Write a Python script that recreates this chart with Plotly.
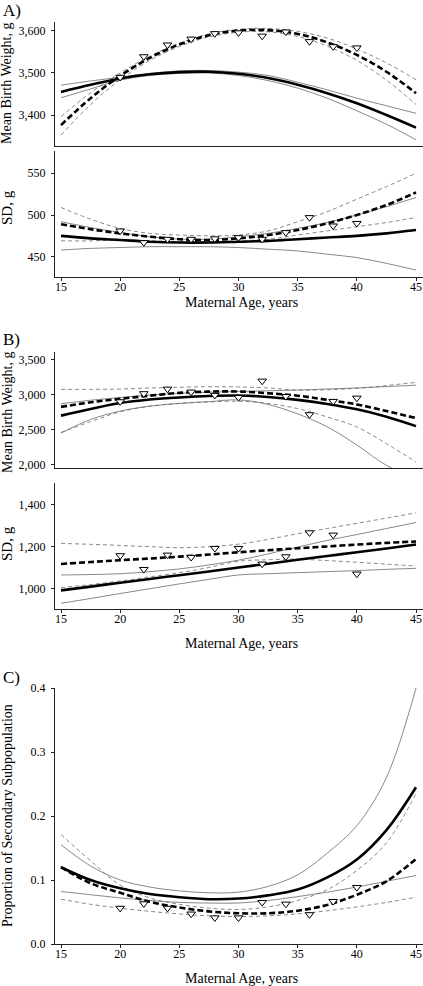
import plotly.graph_objects as go

# ---------------- data ----------------
ages = [15, 17.5, 20, 22.5, 25, 27.5, 30, 32.5, 35, 37.5, 40, 42.5, 45]
obs_ages = [20, 22, 24, 26, 28, 30, 32, 34, 36, 38, 40]

# Panel A - mean birth weight
a_mean_solid = [3455, 3472, 3487, 3497, 3502, 3503, 3498, 3488, 3472, 3452, 3428, 3400, 3370]
a_mean_solid_hi = [3471, 3481, 3490, 3499, 3505, 3506, 3502, 3494, 3478, 3460, 3440, 3422, 3404]
a_mean_solid_lo = [3441, 3462, 3483, 3494, 3499, 3500, 3494, 3482, 3464, 3440, 3410, 3378, 3341]
a_mean_dash = [3376, 3440, 3493, 3536, 3568, 3590, 3601, 3602, 3593, 3573, 3543, 3503, 3452]
a_mean_dash_hi = [3396, 3453, 3500, 3540, 3571, 3593, 3604, 3606, 3599, 3583, 3557, 3524, 3484]
a_mean_dash_lo = [3352, 3425, 3484, 3530, 3563, 3586, 3597, 3598, 3587, 3564, 3530, 3483, 3425]
a_mean_obs = [3490, 3539, 3567, 3581, 3594, 3596, 3588, 3598, 3575, 3563, 3560]

# Panel A - SD
a_sd_solid = [475, 472, 470, 468, 467, 467, 468, 469, 471, 473, 475, 478, 482]
a_sd_solid_hi = [492, 485, 479, 474, 471, 471, 474, 478, 484, 491, 500, 510, 521]
a_sd_solid_lo = [458, 460, 461, 462, 462, 462, 461, 459, 457, 453, 449, 442, 434]
a_sd_dash = [489, 483, 478, 474, 471, 470, 472, 476, 482, 490, 500, 512, 527]
a_sd_dash_hi = [509, 495, 484, 478, 476, 475, 476, 481, 492, 504, 519, 534, 550]
a_sd_dash_lo = [469, 469, 470, 469, 468, 468, 469, 471, 476, 481, 486, 491, 497]
a_sd_obs = [481, 467, 471, 471, 471.6, 473, 471, 479, 497, 487, 490]

# Panel B - mean birth weight
b_mean_solid = [2705, 2800, 2885, 2935, 2965, 2985, 2992, 2972, 2930, 2870, 2795, 2690, 2555]
b_mean_solid_hi = [2875, 2925, 2965, 3000, 3025, 3040, 3050, 3060, 3070, 3085, 3100, 3120, 3140]
b_mean_solid_lo = [2455, 2650, 2770, 2840, 2880, 2905, 2930, 2865, 2730, 2545, 2285, 1995, 1800]
b_mean_dash = [2830, 2895, 2945, 2990, 3030, 3048, 3050, 3025, 2990, 2930, 2865, 2770, 2670]
b_mean_dash_hi = [3080, 3080, 3085, 3100, 3110, 3118, 3115, 3100, 3070, 3075, 3095, 3135, 3180]
b_mean_dash_lo = [2465, 2620, 2760, 2840, 2880, 2900, 2910, 2880, 2805, 2686, 2543, 2305, 2043]
b_mean_obs = [2905, 3020, 3085, 3043, 2996, 2965, 3200, 2980, 2720, 2910, 2957]

# Panel B - SD
b_sd_solid = [990, 1008, 1027, 1045, 1063, 1081, 1100, 1118, 1137, 1155, 1173, 1191, 1210]
b_sd_solid_hi = [1064, 1066, 1070, 1080, 1093, 1112, 1135, 1165, 1198, 1230, 1258, 1287, 1316]
b_sd_solid_lo = [928, 951, 975, 998, 1021, 1043, 1064, 1070, 1075, 1080, 1085, 1091, 1096]
b_sd_dash = [1117, 1126, 1135, 1143, 1152, 1162, 1173, 1183, 1192, 1201, 1210, 1218, 1225]
b_sd_dash_hi = [1216, 1211, 1206, 1200, 1195, 1200, 1212, 1235, 1262, 1287, 1312, 1337, 1362]
b_sd_dash_lo = [1003, 1018, 1035, 1055, 1075, 1100, 1130, 1137, 1140, 1133, 1125, 1116, 1107]
b_sd_obs = [1157, 1091, 1160, 1149, 1192, 1192, 1117, 1152, 1267, 1256, 1069]

# Panel C - proportion of secondary subpopulation
c_solid = [0.120, 0.100, 0.087, 0.078, 0.073, 0.070, 0.071, 0.076, 0.085, 0.104, 0.132, 0.178, 0.245]
c_solid_hi = [0.155, 0.122, 0.100, 0.089, 0.083, 0.080, 0.081, 0.090, 0.108, 0.142, 0.185, 0.260, 0.400]
c_solid_lo = [0.082, 0.077, 0.072, 0.068, 0.065, 0.064, 0.064, 0.068, 0.074, 0.081, 0.089, 0.098, 0.107]
c_dash = [0.120, 0.095, 0.080, 0.066, 0.057, 0.051, 0.048, 0.048, 0.052, 0.061, 0.077, 0.098, 0.133]
c_dash_hi = [0.171, 0.130, 0.092, 0.072, 0.062, 0.056, 0.054, 0.058, 0.068, 0.085, 0.115, 0.158, 0.235]
c_dash_lo = [0.070, 0.062, 0.056, 0.051, 0.047, 0.044, 0.043, 0.044, 0.047, 0.052, 0.058, 0.065, 0.073]
c_obs = [0.056, 0.063, 0.056, 0.047, 0.041, 0.041, 0.065, 0.0625, 0.046, 0.0666, 0.0885]

x_ticks = [15, 20, 25, 30, 35, 40, 45]
a_mean_ticks = [3400, 3500, 3600]
a_mean_labels = ["3,400", "3,500", "3,600"]
a_sd_ticks = [450, 500, 550]
a_sd_labels = ["450", "500", "550"]
b_mean_ticks = [2000, 2500, 3000, 3500]
b_mean_labels = ["2,000", "2,500", "3,000", "3,500"]
b_sd_ticks = [1000, 1200, 1400]
b_sd_labels = ["1,000", "1,200", "1,400"]
c_ticks = [0.0, 0.1, 0.2, 0.3, 0.4]
c_labels = ["0.0", "0.1", "0.2", "0.3", "0.4"]

x_title = "Maternal Age, years"

# ---------------- figure ----------------
W, H = 423, 986
FONT = "Liberation Serif, Times New Roman, serif"

def py(px):
    return 1 - px / H

def px_x(px):
    return px / W

panels = [
    dict(n=1, top=22, bot=146, yr=[3326.2, 3621.4],
         s=a_mean_solid, sh=a_mean_solid_hi, sl=a_mean_solid_lo,
         d=a_mean_dash, dh=a_mean_dash_hi, dl=a_mean_dash_lo, o=a_mean_obs,
         tv=a_mean_ticks, tt=a_mean_labels, xl=False),
    dict(n=2, top=151, bot=277, yr=[425.7, 576.7],
         s=a_sd_solid, sh=a_sd_solid_hi, sl=a_sd_solid_lo,
         d=a_sd_dash, dh=a_sd_dash_hi, dl=a_sd_dash_lo, o=a_sd_obs,
         tv=a_sd_ticks, tt=a_sd_labels, xl=True),
    dict(n=3, top=352, bot=468, yr=[1957, 3614],
         s=b_mean_solid, sh=b_mean_solid_hi, sl=b_mean_solid_lo,
         d=b_mean_dash, dh=b_mean_dash_hi, dl=b_mean_dash_lo, o=b_mean_obs,
         tv=b_mean_ticks, tt=b_mean_labels, xl=False),
    dict(n=4, top=483, bot=609, yr=[900.6, 1505.6],
         s=b_sd_solid, sh=b_sd_solid_hi, sl=b_sd_solid_lo,
         d=b_sd_dash, dh=b_sd_dash_hi, dl=b_sd_dash_lo, o=b_sd_obs,
         tv=b_sd_ticks, tt=b_sd_labels, xl=True),
    dict(n=5, top=688, bot=944, yr=[0, 0.4],
         s=c_solid, sh=c_solid_hi, sl=c_solid_lo,
         d=c_dash, dh=c_dash_hi, dl=c_dash_lo, o=c_obs,
         tv=c_ticks, tt=c_labels, xl=True),
]

fig = go.Figure()
thin_col = "#6a6a6a"
for p in panels:
    xa = "x" if p["n"] == 1 else f"x{p['n']}"
    ya = "y" if p["n"] == 1 else f"y{p['n']}"
    common = dict(xaxis=xa, yaxis=ya, mode="lines", showlegend=False, hoverinfo="skip")
    fig.add_trace(go.Scatter(x=ages, y=p["sh"], line=dict(color=thin_col, width=0.8, shape="spline"), **common))
    fig.add_trace(go.Scatter(x=ages, y=p["sl"], line=dict(color=thin_col, width=0.8, shape="spline"), **common))
    fig.add_trace(go.Scatter(x=ages, y=p["dh"], line=dict(color=thin_col, width=0.8, dash="4px,3px", shape="spline"), **common))
    fig.add_trace(go.Scatter(x=ages, y=p["dl"], line=dict(color=thin_col, width=0.8, dash="4px,3px", shape="spline"), **common))
    fig.add_trace(go.Scatter(x=ages, y=p["s"], line=dict(color="black", width=2.6, shape="spline"), **common))
    fig.add_trace(go.Scatter(x=ages, y=p["d"], line=dict(color="black", width=2.6, dash="6px,3px", shape="spline"), **common))
    fig.add_trace(go.Scatter(x=obs_ages, y=p["o"], xaxis=xa, yaxis=ya, mode="markers", showlegend=False,
                             hoverinfo="skip",
                             marker=dict(symbol="triangle-down", size=7.5, color="white",
                                         line=dict(color="black", width=1))))

    xkey = "xaxis" if p["n"] == 1 else f"xaxis{p['n']}"
    ykey = "yaxis" if p["n"] == 1 else f"yaxis{p['n']}"
    fig.layout[xkey] = dict(
        domain=[px_x(55), 1.0], anchor=ya, range=[14.493, 45.59],
        showline=True, linecolor="#222", linewidth=1, showgrid=False, zeroline=False,
        ticks="outside" if p["xl"] else "", ticklen=3, tickcolor="#222",
        tickvals=x_ticks, showticklabels=p["xl"], automargin=False,
        tickfont=dict(family=FONT, size=12, color="black"), ticklabelstandoff=-4,
    )
    fig.layout[ykey] = dict(
        domain=[py(p["bot"]), py(p["top"])], anchor=xa, range=p["yr"],
        showline=True, linecolor="#222", linewidth=1, showgrid=False, zeroline=False,
        ticks="outside", ticklen=3, tickcolor="#222",
        tickvals=p["tv"], ticktext=p["tt"], automargin=False,
        tickfont=dict(family=FONT, size=12, color="black"), ticklabelstandoff=3,
    )

annotations = []
def ann(text, x, y, size, angle=0, xanchor="center", yanchor="middle"):
    annotations.append(dict(text=text, x=px_x(x), y=py(y), xref="paper", yref="paper",
                            showarrow=False, textangle=angle, xanchor=xanchor, yanchor=yanchor,
                            font=dict(family=FONT, size=size, color="black")))

ann("A)", 1, 10, 17, xanchor="left")
ann("B)", 1, 339, 17, xanchor="left")
ann("C)", 1, 677, 17, xanchor="left")
ann(x_title, 241, 302, 14)
ann(x_title, 241, 643, 14)
ann(x_title, 241, 978, 14)
ann("Mean Birth Weight, g", 7, 83, 14, angle=-90)
ann("SD, g", 7, 208, 15, angle=-90)
ann("Mean Birth Weight, g", 7, 412, 14, angle=-90)
ann("SD, g", 7, 544, 15, angle=-90)
ann("Proportion of Secondary Subpopulation", 7, 816, 14, angle=-90)

fig.update_layout(
    width=W, height=H, margin=dict(l=0, r=0, t=0, b=0),
    paper_bgcolor="white", plot_bgcolor="white", template=None,
    annotations=annotations, showlegend=False,
)

fig.write_html(
    "out.html",
    config={"displayModeBar": False},
    post_script="document.body.style.margin='0';document.body.style.padding='0';"
                "document.body.style.overflow='hidden';",
)
